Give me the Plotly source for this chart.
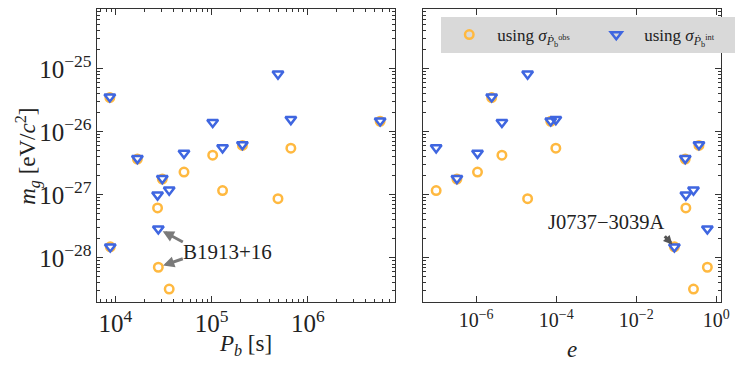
import numpy as np
import plotly.graph_objects as go
from plotly.subplots import make_subplots

# binary pulsars: orbital period, eccentricity, graviton mass bounds
pb = [8740, 16900, 30700, 27400, 36200, 27900, 8830, 51600, 102600, 130000, 209000, 490000, 667000, 5.66e6]
ecc = [2.44e-6, 0.168, 3.3e-7, 0.174, 0.27, 0.60, 0.090, 1.08e-6, 4.4e-6, 1.0e-7, 0.37, 1.93e-5, 9.8e-5, 7.3e-5]
mg_obs = [3.5e-26, 3.7e-27, 1.78e-27, 6.2e-28, 3.2e-29, 7.1e-29, 1.5e-28, 2.3e-27, 4.26e-27, 1.17e-27, 6.1e-27, 8.7e-28, 5.5e-27, 1.47e-26]
mg_int = [3.6e-26, 3.8e-27, 1.82e-27, 1.0e-27, 1.2e-27, 2.9e-28, 1.5e-28, 4.6e-27, 1.42e-26, 5.6e-27, 6.3e-27, 8.3e-26, 1.58e-26, 1.5e-26]
e_ticks = [1e-6, 1e-4, 1e-2, 1]
e_ticktext = ["10<sup>−6</sup>", "10<sup>−4</sup>", "10<sup>−2</sup>", "10<sup>0</sup>"]

ORANGE = "#ffb940"
BLUE = "#3f66e0"
FONT = "Liberation Serif"
INK = "#222"

# the page body has an 8px margin, so the figure is drawn 8px in from the window corner
W, H, OFF = 739, 366, 8


def px(x):
    return (x - OFF) / W


def py(y):
    return 1 - (y - OFF) / H


fig = make_subplots(rows=1, cols=2)

obs_marker = dict(symbol="circle-open", size=8.5, color=ORANGE, line=dict(width=2.5, color=ORANGE))
int_marker = dict(symbol="triangle-down-open", size=9.5, color=BLUE, line=dict(width=2.5, color=BLUE))

name_obs = "using <i>σ</i><sub><i>Ṗ</i><sub>b</sub><sup>obs</sup></sub>"
name_int = "using <i>σ</i><sub><i>Ṗ</i><sub>b</sub><sup>int</sup></sub>"

fig.add_trace(go.Scatter(x=pb, y=mg_obs, mode="markers", marker=obs_marker, name=name_obs), 1, 1)
fig.add_trace(go.Scatter(x=pb, y=mg_int, mode="markers", marker=int_marker, name=name_int), 1, 1)
fig.add_trace(go.Scatter(x=ecc, y=mg_obs, mode="markers", marker=obs_marker, showlegend=False), 1, 2)
fig.add_trace(go.Scatter(x=ecc, y=mg_int, mode="markers", marker=int_marker, showlegend=False), 1, 2)

axis_common = dict(
    type="log", showline=True, linecolor="#333", linewidth=1.2, mirror="allticks",
    ticks="inside", ticklen=6, tickcolor="#333", showgrid=False, zeroline=False,
    exponentformat="power", showexponent="all",
    tickfont=dict(family=FONT, size=20, color=INK),
)
minor = dict(ticks="inside", ticklen=3, tickcolor="#333", showgrid=False)
y_dom = [py(302), py(9)]

fig.update_xaxes(axis_common)
fig.update_yaxes(axis_common)

fig.update_xaxes(range=[3.805, 6.905], dtick=1, minor=minor, domain=[px(97.7), px(399)], row=1, col=1)
fig.update_xaxes(range=[-7.325, 0.124], tickmode="array", tickvals=e_ticks, ticktext=e_ticktext,
                 domain=[px(427.7), px(729)], row=1, col=2)
fig.update_yaxes(range=[-28.70, -24.05], dtick=1, minor=minor, domain=y_dom, row=1, col=1)
fig.update_yaxes(range=[-28.70, -24.05], dtick=1, minor=minor, domain=y_dom, showticklabels=False, row=1, col=2)

arrow = dict(showarrow=True, arrowhead=2, arrowsize=0.75, arrowwidth=3, arrowcolor="#7a7a7a",
             axref="pixel", ayref="pixel", text="")
# B1913+16 arrows and label (annotation positions on log axes are in log10 units)
fig.add_annotation(x=np.log10(pb[5]), y=np.log10(mg_int[5]), ax=26, ay=14, standoff=5, xref="x", yref="y", **arrow)
fig.add_annotation(x=np.log10(pb[5]), y=np.log10(mg_obs[5]), ax=26, ay=-9, standoff=5, xref="x", yref="y", **arrow)
fig.add_annotation(x=4.68, y=-27.905, xref="x", yref="y", text="B1913+16", showarrow=False,
                   xanchor="left", font=dict(family=FONT, size=21, color=INK))
# J0737-3039A
fig.add_annotation(x=np.log10(ecc[6]), y=np.log10(mg_int[6]), ax=-11, ay=-12, standoff=3,
                   xref="x2", yref="y2", **{**arrow, "arrowcolor": "#555", "arrowsize": 0.6})
fig.add_annotation(x=-1.22, y=-27.43, xref="x2", yref="y2", text="J0737−3039A", showarrow=False,
                   xanchor="right", font=dict(family=FONT, size=20.5, color=INK))

# axis titles
title_font = dict(family=FONT, size=23, color=INK)
fig.add_annotation(x=px(28), y=py(156), xref="paper", yref="paper", textangle=-90, showarrow=False,
                   xanchor="center", yanchor="middle",
                   text="<i>m<sub>g</sub></i> [eV/<i>c</i><sup>2</sup>]", font=title_font)
fig.add_annotation(x=px(248), y=py(345), xref="paper", yref="paper", showarrow=False,
                   xanchor="center", yanchor="middle",
                   text="<i>P<sub>b</sub></i> [s]", font=title_font)
fig.add_annotation(x=px(578), y=py(349), xref="paper", yref="paper", showarrow=False,
                   xanchor="center", yanchor="middle",
                   text="<i>e</i>", font=title_font)

fig.update_layout(
    width=W, height=H, margin=dict(l=0, r=0, t=0, b=0),
    paper_bgcolor="white", plot_bgcolor="white",
    font=dict(family=FONT, color=INK),
    legend=dict(orientation="h", x=px(446), y=py(17), xanchor="left", yanchor="top",
                bgcolor="#d9d9d9", font=dict(family=FONT, size=17, color=INK),
                itemwidth=46, entrywidth=86, entrywidthmode="pixels"),
)

fig.write_html("out.html")
